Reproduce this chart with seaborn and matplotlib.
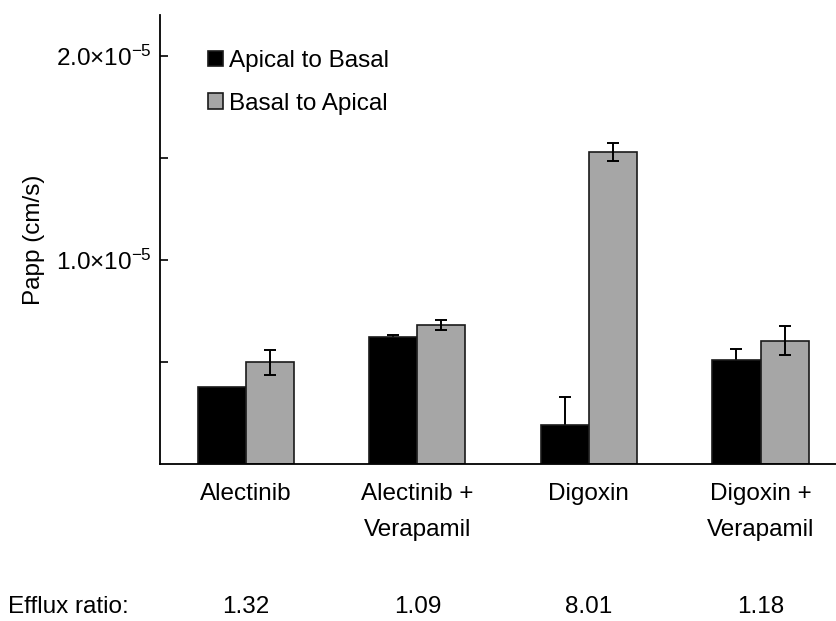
import matplotlib
matplotlib.use("Agg")
import matplotlib.pyplot as plt
import matplotlib.transforms as mtransforms
import numpy as np
import pandas as pd
import seaborn as sns

# Permeability data (cm/s)
compounds = ["Alectinib", "Alectinib +\nVerapamil", "Digoxin", "Digoxin +\nVerapamil"]
directions = ["Apical to Basal", "Basal to Apical"]
papp_ab = [0.377e-5, 0.624e-5, 0.191e-5, 0.512e-5]
papp_ba = [0.498e-5, 0.680e-5, 1.528e-5, 0.604e-5]
sd_ab = [0.0e-5, 0.008e-5, 0.136e-5, 0.050e-5]
sd_ba = [0.062e-5, 0.024e-5, 0.043e-5, 0.072e-5]
efflux_ratio = ["1.32", "1.09", "8.01", "1.18"]

sns.set_theme(style="white")
plt.rcParams["font.family"] = ["Liberation Sans", "DejaVu Sans"]
plt.rcParams["mathtext.fontset"] = "custom"
plt.rcParams["mathtext.rm"] = "Liberation Sans"
plt.rcParams["mathtext.default"] = "regular"
plt.rcParams["text.color"] = "black"
plt.rcParams["axes.labelcolor"] = "black"
plt.rcParams["xtick.color"] = "black"
plt.rcParams["ytick.color"] = "black"

FS = 17.5

df = pd.DataFrame({
    "Compound": compounds * 2,
    "Direction": [directions[0]] * 4 + [directions[1]] * 4,
    "Papp": papp_ab + papp_ba,
})

W, H = 836, 621
fig = plt.figure(figsize=(W / 100, H / 100), dpi=100)
ax = fig.add_axes([160 / W, 1 - 464 / H, (836 - 160) / W, (464 - 15) / H])

sns.barplot(
    data=df, x="Compound", y="Papp", hue="Direction", order=compounds,
    hue_order=directions, palette={directions[0]: "#000000", directions[1]: "#a6a6a6"},
    width=0.56, edgecolor="#1a1a1a", linewidth=1.2, errorbar=None, ax=ax,
    saturation=1,
)

# error bars; the dark series sits behind its bars so only the upper arm shows
for k, (container, errs) in enumerate(zip(ax.containers, [sd_ab, sd_ba])):
    for patch, e in zip(container.patches, errs):
        if e <= 0:
            continue
        xc = patch.get_x() + patch.get_width() / 2
        ax.errorbar(xc, patch.get_height(), yerr=e, fmt="none", ecolor="black",
                    elinewidth=1.4, capsize=4.5, capthick=1.4,
                    zorder=0.5 if k == 0 else 5)

ax.set_xlim(-0.5, 3.44)
ax.set_ylim(0, 2.2e-5)
ax.set_yticks([0.5e-5, 1.0e-5, 1.5e-5, 2.0e-5])
ax.set_yticklabels(["", r"1.0×10$^{-5}$", "", r"2.0×10$^{-5}$"], fontsize=FS)
ax.yaxis.set_tick_params(which="major", direction="in", length=6, width=1.2,
                         pad=6, left=True)
ax.tick_params(axis="x", length=0, pad=14)
ax.set_xticks(range(len(compounds)))
ax.set_xticklabels(compounds, fontsize=FS, linespacing=1.8)
ax.set_xlabel("")
ax.set_ylabel("Papp (cm/s)", fontsize=FS, labelpad=8)

sns.despine(ax=ax)
for side in ["left", "bottom"]:
    ax.spines[side].set_color("black")
    ax.spines[side].set_linewidth(1.3)

handles, labels = ax.get_legend_handles_labels()
ax.legend(handles, labels, loc="upper left", bbox_to_anchor=(0.071, 0.922),
          frameon=False, fontsize=FS, handlelength=0.6, handleheight=0.6,
          handletextpad=0.25, labelspacing=0.85, borderpad=0, borderaxespad=0)

# efflux ratio row below the category labels
row_tf = mtransforms.blended_transform_factory(ax.transData, fig.transFigure)
row_y = 1 - 607 / H
fig.text(8 / W, row_y, "Efflux ratio:", fontsize=FS, ha="left", va="center")
for i, r in enumerate(efflux_ratio):
    ax.text(i, row_y, r, transform=row_tf, fontsize=FS, ha="center", va="center",
            clip_on=False)

fig.savefig("out.png", dpi=100)
